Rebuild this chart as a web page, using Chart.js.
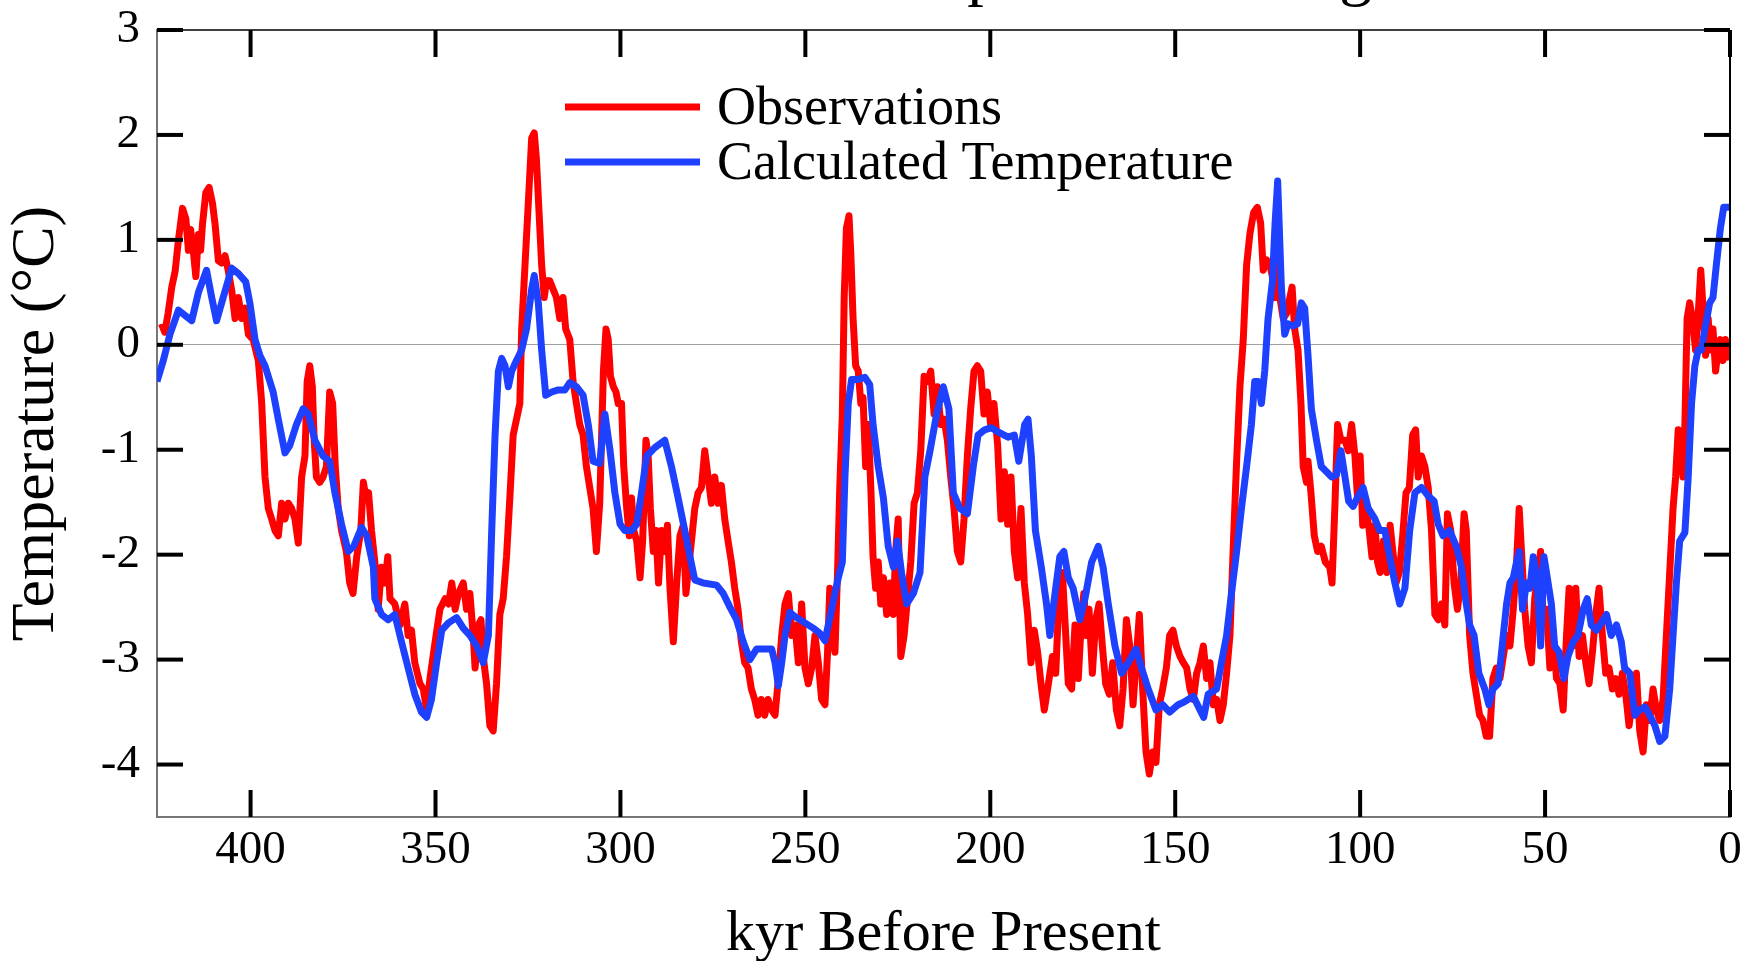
<!DOCTYPE html>
<html>
<head>
<meta charset="utf-8">
<script src="https://cdn.jsdelivr.net/npm/chart.js@4.4.1/dist/chart.umd.min.js"></script>
<style>
  html, body { margin: 0; padding: 0; background: #fff; }
  #wrap { width: 1747px; height: 961px; }
</style>
</head>
<body>
<div id="wrap"><canvas id="chart" width="1747" height="961"></canvas></div>
<script>
var xTicks = [400, 350, 300, 250, 200, 150, 100, 50, 0];
var yTicks = [3, 2, 1, 0, -1, -2, -3, -4];

// Observations (kyr before present, deg C)
var obsKyr = [
  424.1, 423.2, 422.3, 421.3, 420.4, 419.5, 418.4, 417.5, 416.8, 416.2,
  415.5, 414.8, 414.1, 413.5, 413.0, 412.1, 411.2, 410.3, 409.6, 408.7,
  407.8, 406.9, 406.0, 405.1, 404.2, 403.3, 402.4, 401.5, 400.6, 399.3,
  397.9, 397.0, 396.1, 395.2, 394.3, 393.4, 392.5, 391.6, 390.7, 389.8,
  388.9, 388.0, 387.1, 386.2, 385.3, 384.7, 384.0, 383.3, 382.8, 382.2,
  381.3, 380.4, 379.5, 378.6, 377.8, 377.1, 376.3, 375.4, 374.1, 373.2,
  372.3, 371.3, 370.2, 369.5, 368.8, 368.1, 367.3, 366.4,
  365.5, 364.6, 363.7, 362.9, 362.3, 361.0, 359.6, 358.3, 357.4, 356.5,
  355.6, 354.2, 353.3, 352.4, 351.5, 350.1, 348.8, 347.4, 346.5, 345.6,
  344.7, 343.8, 342.5, 341.6, 340.7, 339.8, 339.3, 338.4, 337.7, 337.1,
  336.2, 335.3, 334.4, 333.5, 332.6, 331.7, 330.8, 329.9, 329.0, 328.1,
  327.2, 326.7, 325.8, 324.9, 324.0, 323.3, 322.7, 322.0, 321.3, 320.6,
  320.0, 319.1, 318.2, 317.3, 316.4, 315.5, 314.8, 313.7, 312.8, 311.9,
  311.0, 310.1, 309.2, 308.3, 307.4, 306.5, 305.6,
  304.6, 303.9, 303.3, 302.7, 301.9, 301.2, 300.6, 299.7, 299.1, 298.3,
  297.6, 297.0, 296.4, 295.6, 294.7, 294.0, 293.1, 292.5, 291.9, 291.1,
  290.4, 289.7, 288.9, 288.0, 287.3, 286.6, 285.7, 284.8, 283.9, 283.0,
  282.3, 281.7, 280.8, 279.9, 279.0, 278.1, 277.2, 276.3, 275.4, 274.5,
  273.6, 272.7, 271.8, 270.9, 270.0, 269.1, 268.2, 267.3, 266.4, 265.5,
  264.6, 263.7, 262.8, 261.9, 261.0, 260.1, 259.1, 258.2, 257.3, 256.4,
  255.5, 254.6, 253.7, 252.8, 251.9, 251.0, 250.1, 249.2, 248.3, 247.4,
  246.5, 245.6,
  244.7, 244.0, 243.4, 242.7, 242.0, 241.3, 240.7, 240.0, 239.5, 238.9,
  238.2, 237.7, 237.1, 236.4, 235.7, 235.0, 234.4, 233.7, 233.0, 232.3,
  231.7, 231.0, 230.3, 229.6, 228.9, 228.0, 227.1, 226.2, 225.6, 224.9,
  224.2, 223.3, 222.4, 221.5, 220.6, 219.7, 218.8, 217.9, 217.0, 216.1,
  215.2, 214.3, 213.4, 212.5, 211.6, 210.7, 209.8, 208.9, 208.0, 207.1,
  206.2, 205.3, 204.4, 203.5, 202.6, 201.7, 200.8, 199.9, 199.0, 198.0,
  197.1, 196.2, 195.3, 194.4, 193.5, 192.6, 191.7, 190.8, 189.9, 189.0,
  188.1, 187.2, 186.3, 185.4, 184.5,
  183.2, 182.3, 181.4, 180.5, 179.6, 178.9, 178.0, 177.1, 176.2, 175.3,
  174.7, 174.0, 173.3, 172.4, 171.5, 170.6, 169.7, 168.8, 167.8, 166.9,
  165.9, 165.0, 164.1, 163.2, 162.3, 161.4, 160.6, 159.7, 158.8, 157.9,
  157.0, 156.1, 155.2, 154.3, 153.4, 152.4, 151.5, 150.6, 149.7, 148.7,
  147.8, 146.9, 146.0, 145.1, 144.2, 143.3, 142.4, 141.5, 140.6, 139.7,
  138.8, 137.9, 137.0, 136.1, 135.2, 134.3, 133.4, 132.5, 131.6, 130.7,
  129.8, 128.8, 127.8, 126.9, 126.2, 125.3, 124.4, 123.5,
  123.1, 122.3, 121.7, 120.8, 119.9, 119.0, 118.4, 117.7, 116.8, 116.0,
  115.4, 114.5, 114.1, 113.3, 112.4, 111.5, 110.5, 109.4, 108.2, 107.6,
  106.8, 106.1, 105.2, 104.1, 103.2, 102.3, 101.4, 100.7, 100.0, 99.3,
  98.6, 97.7, 96.8, 96.0, 95.3, 94.6, 93.7, 92.8, 91.9, 91.0,
  90.3, 89.4, 88.5, 87.6, 86.7, 85.8, 85.0, 84.3, 83.4, 82.5,
  81.6, 80.7, 79.8, 78.9, 78.0, 77.1, 76.4, 75.5, 74.6, 73.7,
  72.8, 71.9, 71.3, 70.4, 69.5, 68.6, 67.7, 66.8, 65.9, 65.0,
  64.1, 63.2,
  62.2, 61.3, 60.4, 59.5, 58.6, 57.7, 57.0, 56.3, 55.5, 54.6,
  53.7, 52.8, 51.9, 51.2, 50.5, 49.6, 48.7, 47.8, 46.9, 46.0,
  45.1, 44.2, 43.5, 42.6, 41.7, 40.8, 39.9, 39.0, 38.1, 37.2,
  36.3, 35.4, 34.5, 33.6, 32.7, 31.8, 30.9, 30.0, 29.1, 28.2,
  27.3, 26.4, 25.3, 24.4, 23.5, 22.6, 21.7, 20.8, 19.9, 19.0,
  18.1, 17.2, 16.3, 15.4, 14.7, 14.0, 13.4, 12.7, 12.2, 11.6,
  10.9, 10.2, 9.3, 8.5, 7.9, 7.3, 6.6, 5.9, 5.3, 4.6,
  3.9, 3.2, 2.6, 1.9, 1.2, 0.4
];
var obsTemp = [
  0.20, 0.12, 0.30, 0.55, 0.70, 1.00, 1.30, 1.20, 0.90, 1.10,
  0.90, 0.65, 1.05, 0.90, 1.15, 1.45, 1.50, 1.35, 1.15, 0.80,
  0.78, 0.85, 0.70, 0.52, 0.25, 0.45, 0.25, 0.35, 0.10, 0.05,
  -0.15, -0.55, -1.26, -1.56, -1.66, -1.77, -1.82, -1.51, -1.66, -1.51,
  -1.56, -1.66, -1.89, -1.26, -1.06, -0.35, -0.20, -0.40, -0.91, -1.26,
  -1.31, -1.26, -1.16, -0.45, -0.56, -1.16, -1.56, -1.77, -1.97, -2.27,
  -2.37, -2.02, -1.77, -1.31, -1.46, -1.41, -1.77, -2.07,
  -2.52, -2.12, -2.27, -2.02, -2.42, -2.47, -2.67, -2.47, -2.77, -2.72,
  -3.03, -3.23, -3.28, -3.48, -3.18, -2.83, -2.52, -2.42, -2.47, -2.27,
  -2.52, -2.37, -2.27, -2.52, -2.37, -2.77, -3.08, -2.67, -2.62, -2.97,
  -3.23, -3.63, -3.68, -3.23, -2.57, -2.42, -2.02, -1.46, -0.86, -0.71,
  -0.56, 0.15, 0.76, 1.36, 1.97, 2.02, 1.76, 1.26, 0.76, 0.45,
  0.61, 0.61, 0.53, 0.45, 0.25, 0.45, 0.15, 0.05, -0.35, -0.56,
  -0.76, -0.86, -1.16, -1.36, -1.56, -1.97, -1.51,
  -0.25, 0.15, 0.05, -0.30, -0.40, -0.45, -0.56, -0.56, -1.16, -1.56,
  -1.82, -1.46, -1.77, -1.87, -2.22, -1.87, -0.91, -1.06, -1.56, -1.97,
  -1.77, -2.27, -1.77, -1.97, -1.72, -2.32, -2.83, -2.27, -1.82, -1.72,
  -2.37, -2.17, -1.87, -1.56, -1.41, -1.36, -1.01, -1.26, -1.51, -1.26,
  -1.51, -1.34, -1.66, -1.87, -2.07, -2.32, -2.52, -2.83, -3.03, -3.08,
  -3.28, -3.38, -3.53, -3.38, -3.53, -3.38, -3.48, -3.53, -3.18, -2.77,
  -2.47, -2.37, -2.77, -2.67, -3.03, -2.47, -3.08, -3.23, -3.08, -2.77,
  -3.03, -3.38,
  -3.43, -2.93, -2.32, -2.77, -2.93, -2.17, -1.36, -0.66, 0.45, 1.11,
  1.23, 0.86, 0.25, -0.20, -0.25, -0.56, -0.50, -1.16, -0.76, -1.36,
  -2.02, -2.32, -2.07, -2.47, -2.22, -2.57, -2.27, -2.57, -1.97, -1.66,
  -2.97, -2.77, -2.42, -2.07, -1.51, -1.41, -1.01, -0.30, -0.35, -0.25,
  -0.66, -0.40, -0.76, -0.71, -0.91, -1.26, -1.56, -1.97, -2.07, -1.66,
  -1.06, -0.61, -0.25, -0.20, -0.25, -0.66, -0.45, -0.76, -0.56, -0.96,
  -1.66, -1.21, -1.71, -1.26, -1.97, -2.22, -1.56, -2.27, -2.57, -3.03,
  -2.72, -2.93, -3.23, -3.48, -3.28,
  -2.97, -3.13, -2.37, -2.17, -2.77, -3.23, -3.28, -2.67, -3.18, -2.57,
  -2.37, -2.77, -2.52, -3.13, -2.62, -2.47, -2.87, -3.23, -3.33, -3.03,
  -3.48, -3.63, -3.28, -2.62, -2.87, -3.43, -3.03, -2.57, -3.28, -3.88,
  -4.09, -3.88, -3.98, -3.43, -3.28, -3.08, -2.77, -2.72, -2.87, -2.97,
  -3.03, -3.08, -3.28, -3.38, -3.13, -3.03, -2.87, -3.18, -3.03, -3.43,
  -3.38, -3.58, -3.43, -3.13, -2.77, -1.92, -1.11, -0.40, 0.05, 0.76,
  1.06, 1.26, 1.31, 1.16, 0.71, 0.81, 0.76, 0.61,
  0.45, 0.76, 0.45, 0.25, 0.30, 0.45, 0.55, 0.15, -0.05, -0.56,
  -1.16, -1.31, -1.11, -1.41, -1.82, -1.97, -1.92, -2.07, -2.12, -2.27,
  -1.51, -0.76, -0.91, -0.91, -1.01, -0.76, -1.06, -1.46, -1.06, -1.72,
  -1.56, -1.72, -2.02, -1.72, -2.07, -2.17, -1.87, -2.17, -1.72, -2.02,
  -2.27, -2.17, -1.82, -1.41, -1.36, -0.86, -0.81, -1.26, -1.06, -1.16,
  -1.36, -1.77, -2.57, -2.62, -2.47, -2.67, -1.61, -1.77, -2.27, -2.52,
  -2.27, -1.61, -1.77, -2.77, -3.13, -3.33, -3.53, -3.58, -3.73, -3.73,
  -3.18, -3.08,
  -3.18, -2.97, -2.77, -2.87, -2.52, -2.07, -1.56, -2.02, -2.52, -2.87,
  -3.03, -2.42, -2.17, -1.97, -2.67, -2.52, -3.08, -2.77, -3.18, -3.23,
  -3.48, -2.77, -2.32, -2.87, -2.32, -2.97, -2.77, -3.03, -3.23, -2.93,
  -2.57, -2.32, -2.77, -3.13, -3.08, -3.28, -3.18, -3.33, -3.13, -3.33,
  -3.63, -3.38, -3.13, -3.68, -3.88, -3.43, -3.58, -3.28, -3.48, -3.58,
  -3.38, -2.77, -2.17, -1.56, -1.26, -0.81, -0.96, -1.26, -0.76, 0.25,
  0.40, 0.25, -0.05, 0.35, 0.71, 0.35, -0.10, 0.25, -0.05, 0.15,
  -0.25, -0.05, 0.05, -0.15, 0.05, -0.15
];

// Calculated temperature
var calcKyr = [
  425.3, 423.6, 421.8, 419.5, 417.7, 415.9, 414.1, 411.9, 410.5, 409.2,
  407.4, 405.1, 403.3, 401.3, 400.2, 398.8, 397.5, 396.1, 393.9, 392.5,
  390.7, 389.4, 387.6, 385.8, 384.4, 382.6, 380.4, 378.6, 377.2, 375.4,
  373.6, 372.1, 370.0, 368.6, 366.8,
  366.4, 364.6, 362.8, 361.0, 359.2, 357.4, 355.6, 353.8, 352.4, 351.1,
  349.7, 348.3, 346.5, 344.3, 342.5, 340.7, 338.9, 337.1, 335.7, 334.8,
  333.9, 333.0, 332.1, 331.2, 330.3, 329.4, 328.1, 326.7, 325.4, 324.0,
  323.3, 322.2, 321.3, 320.2, 318.6, 316.8, 315.0, 313.7, 311.9, 310.1,
  308.7, 307.4, 305.6,
  304.2, 302.8, 301.5, 300.1, 298.8, 297.0, 295.6, 294.3, 292.9, 290.7,
  288.0, 286.2, 284.4, 282.6, 281.2, 279.9, 277.6, 274.0, 272.2, 270.4,
  268.6, 266.8, 265.0, 263.2, 261.0, 259.1, 258.2, 257.3, 256.4, 255.5,
  254.2, 252.4, 250.1, 247.9, 246.1,
  244.7, 242.9, 241.1, 240.0, 239.3, 238.4, 237.5, 235.7, 233.9, 232.6,
  231.7, 230.3, 228.9, 227.6, 226.2, 225.1, 224.0, 222.6, 220.8, 219.0,
  217.7, 216.3, 214.5, 212.7, 211.2, 210.0, 208.2, 206.2, 204.6, 203.3,
  201.5, 199.7, 197.9, 195.2, 193.5, 192.3, 190.7, 189.8, 188.9, 187.8,
  186.2, 184.8,
  183.9, 182.5, 181.2, 180.1, 178.9, 177.6, 175.8, 174.4, 172.6, 170.8,
  169.5, 168.1, 166.3, 164.5, 162.7, 160.6, 159.1, 157.3, 155.2, 153.4,
  151.5, 149.2, 147.4, 145.1, 143.3, 142.3, 141.1, 138.8, 137.5, 136.1,
  134.8, 133.4, 132.1, 130.7, 129.4, 128.5, 127.6, 126.7, 125.8, 124.9,
  123.7, 123.0, 122.3,
  121.3, 120.4, 119.5, 118.1, 116.9, 115.9, 115.0, 114.1, 113.2, 111.8,
  110.5, 109.1, 107.7, 106.4, 105.2, 104.1, 103.1, 101.9, 100.5, 99.2,
  97.8, 96.0, 94.7, 93.3, 92.3, 90.6, 89.3, 87.9, 86.6, 85.2,
  83.4, 81.6, 80.0, 78.9, 77.6, 75.8, 74.0, 72.6, 71.3, 70.4,
  69.2, 67.9, 66.3, 65.2, 64.1, 62.7,
  62.2, 61.3, 60.4, 59.5, 58.6, 57.7, 57.0, 56.1, 55.0, 54.1,
  53.2, 52.3, 51.2, 50.3, 49.4, 48.3, 47.4, 46.2, 44.9, 43.8,
  42.4, 41.1, 39.7, 38.6, 37.5, 36.1, 34.8, 33.4, 32.1, 30.7,
  29.4, 28.5, 27.1, 25.7, 24.4, 23.0, 21.7, 20.3, 19.0, 17.6,
  16.3, 15.4, 14.5, 13.6, 12.2, 11.3, 10.4, 9.5, 8.6, 7.7,
  6.8, 5.5, 4.6, 3.7, 2.6, 1.7, 0
];
var calcTemp = [
  -0.35, -0.15, 0.10, 0.33, 0.28, 0.23, 0.50, 0.71, 0.45, 0.23,
  0.45, 0.73, 0.68, 0.60, 0.40, 0.05, -0.10, -0.20, -0.45, -0.71,
  -1.03, -0.96, -0.76, -0.61, -0.66, -0.91, -1.06, -1.11, -1.41, -1.71,
  -1.97, -1.92, -1.74, -1.82, -2.12,
  -2.42, -2.57, -2.62, -2.57, -2.83, -3.08, -3.33, -3.50, -3.55, -3.38,
  -3.03, -2.72, -2.65, -2.60, -2.70, -2.77, -2.87, -3.03, -2.77, -1.77,
  -0.86, -0.25, -0.13, -0.20, -0.40, -0.25, -0.15, -0.05, 0.15, 0.53,
  0.66, 0.40, -0.05, -0.48, -0.45, -0.43, -0.43, -0.36, -0.40, -0.48,
  -0.76, -1.11, -1.13,
  -0.66, -1.01, -1.41, -1.71, -1.77, -1.77, -1.71, -1.41, -1.06, -0.98,
  -0.91, -1.16, -1.46, -1.77, -2.02, -2.24, -2.27, -2.29, -2.37, -2.50,
  -2.62, -2.83, -3.00, -2.90, -2.90, -2.90, -3.03, -3.25, -3.03, -2.77,
  -2.55, -2.60, -2.65, -2.70, -2.75,
  -2.82, -2.52, -2.22, -2.07, -1.26, -0.56, -0.33, -0.33, -0.31, -0.38,
  -0.76, -1.16, -1.46, -1.92, -2.12, -1.87, -2.17, -2.47, -2.37, -2.17,
  -1.26, -1.01, -0.66, -0.40, -0.61, -1.41, -1.56, -1.61, -1.16, -0.86,
  -0.81, -0.79, -0.83, -0.88, -0.86, -1.11, -0.76, -0.71, -1.06, -1.77,
  -2.12, -2.47,
  -2.77, -2.37, -2.02, -1.97, -2.22, -2.32, -2.62, -2.42, -2.07, -1.92,
  -2.12, -2.47, -2.87, -3.13, -3.03, -2.90, -3.08, -3.28, -3.48, -3.43,
  -3.50, -3.43, -3.40, -3.35, -3.48, -3.55, -3.33, -3.28, -3.03, -2.77,
  -2.37, -1.97, -1.56, -1.16, -0.76, -0.35, -0.35, -0.56, -0.25, 0.25,
  0.61, 1.16, 1.56,
  0.55, 0.10, 0.20, 0.18, 0.20, 0.40, 0.35, -0.10, -0.61, -0.91,
  -1.16, -1.21, -1.26, -1.24, -1.01, -1.26, -1.49, -1.54, -1.44, -1.36,
  -1.56, -1.66, -1.77, -1.77, -1.97, -2.27, -2.47, -2.32, -1.77, -1.41,
  -1.36, -1.44, -1.49, -1.71, -1.82, -1.77, -1.92, -2.12, -2.47, -2.67,
  -2.77, -3.13, -3.28, -3.43, -3.28, -3.23,
  -3.08, -2.77, -2.47, -2.27, -2.22, -2.07, -1.97, -2.52, -2.27, -2.32,
  -2.02, -2.17, -2.87, -2.02, -2.22, -2.47, -2.87, -2.93, -3.18, -2.97,
  -2.83, -2.77, -2.52, -2.42, -2.67, -2.72, -2.65, -2.57, -2.77, -2.67,
  -2.83, -3.08, -3.13, -3.53, -3.48, -3.45, -3.53, -3.63, -3.78, -3.73,
  -3.28, -2.77, -2.27, -1.87, -1.79, -1.26, -0.56, -0.20, -0.05, -0.05,
  0.15, 0.40, 0.45, 0.76, 1.11, 1.31, 1.31
];

var serif = '"Liberation Serif", "Times New Roman", serif';

function toPoints(xs, ys) {
  var pts = [];
  for (var i = 0; i < xs.length; i++) pts.push({ x: xs[i], y: ys[i] });
  return pts;
}

// inward ticks, top/right frame, legend and the clipped title
var framePlugin = {
  id: 'frame',
  afterDraw: function (chart) {
    var ctx = chart.ctx;
    var a = chart.chartArea;
    var xs = chart.scales.x;
    var ys = chart.scales.y;

    function seg(x1, y1, x2, y2) {
      ctx.beginPath();
      ctx.moveTo(x1, y1);
      ctx.lineTo(x2, y2);
      ctx.stroke();
    }

    ctx.save();
    ctx.strokeStyle = '#000';
    ctx.lineWidth = 1.5;
    seg(a.left, a.top, a.right, a.top);
    ctx.lineWidth = 2;
    seg(a.right, a.top, a.right, a.bottom);

    ctx.lineWidth = 4;
    ctx.lineCap = 'butt';
    yTicks.forEach(function (v) {
      var y = ys.getPixelForValue(v);
      seg(a.left, y, a.left + 26, y);
      seg(a.right - 26, y, a.right, y);
    });
    xTicks.forEach(function (v) {
      var x = xs.getPixelForValue(v);
      seg(x, a.bottom, x, a.bottom - 27);
      seg(x, a.top, x, a.top + 27);
    });

    // legend
    var sets = chart.data.datasets;
    var rows = [{ ds: sets[1], y: 107, base: 124 }, { ds: sets[0], y: 162, base: 179 }];
    ctx.lineWidth = 7;
    ctx.font = '54px ' + serif;
    ctx.textAlign = 'left';
    ctx.textBaseline = 'alphabetic';
    rows.forEach(function (r) {
      ctx.strokeStyle = r.ds.borderColor;
      seg(565, r.y, 700, r.y);
      ctx.fillStyle = '#000';
      ctx.fillText(r.ds.label, 717, r.base);
    });

    // title sits above the canvas, only descenders show
    ctx.font = '66px ' + serif;
    ctx.fillText('Antarctic Temperature Change', 589, -7);
    ctx.restore();
  }
};

new Chart(document.getElementById('chart'), {
  type: 'line',
  data: {
    datasets: [{
      label: 'Calculated Temperature',
      data: toPoints(calcKyr, calcTemp),
      borderColor: '#1e40ff',
      borderWidth: 7,
      pointRadius: 0,
      tension: 0,
      borderJoinStyle: 'round',
      order: 1
    }, {
      label: 'Observations',
      data: toPoints(obsKyr, obsTemp),
      borderColor: '#ff0000',
      borderWidth: 7,
      pointRadius: 0,
      tension: 0,
      borderJoinStyle: 'round',
      order: 2
    }]
  },
  options: {
    responsive: false,
    animation: false,
    layout: { padding: { top: 30, right: 17, left: 0, bottom: 0 } },
    plugins: {
      legend: { display: false },
      tooltip: { enabled: false }
    },
    scales: {
      x: {
        type: 'linear',
        reverse: true,
        min: 0,
        max: 425.3,
        afterFit: function (scale) {
          scale.height = 144;
          scale.paddingLeft = 0;
          scale.paddingRight = 0;
        },
        afterBuildTicks: function (scale) {
          scale.ticks = xTicks.map(function (v) { return { value: v }; });
        },
        grid: { drawOnChartArea: false, drawTicks: false },
        border: { color: '#777', width: 2 },
        ticks: {
          padding: 5,
          color: '#000',
          font: { family: serif, size: 47 }
        },
        title: {
          display: true,
          text: 'kyr Before Present',
          color: '#000',
          font: { family: serif, size: 58, lineHeight: 0.9 },
          padding: { top: 0, bottom: 0 }
        }
      },
      y: {
        type: 'linear',
        min: -4.5,
        max: 3,
        afterFit: function (scale) {
          scale.width = 157;
          scale.paddingTop = 0;
          scale.paddingBottom = 0;
        },
        afterBuildTicks: function (scale) {
          scale.ticks = yTicks.map(function (v) { return { value: v }; });
        },
        grid: {
          drawTicks: false,
          lineWidth: 1,
          color: function (c) { return c.tick && c.tick.value === 0 ? '#a0a0a0' : 'rgba(0,0,0,0)'; }
        },
        border: { color: '#777', width: 2 },
        ticks: {
          padding: 17,
          color: '#000',
          font: { family: serif, size: 47 }
        },
        title: {
          display: true,
          text: 'Temperature (°C)',
          color: '#000',
          font: { family: serif, size: 62, lineHeight: 1.2 },
          padding: { top: 0, bottom: 0 }
        }
      }
    }
  },
  plugins: [framePlugin]
});
</script>
</body>
</html>
